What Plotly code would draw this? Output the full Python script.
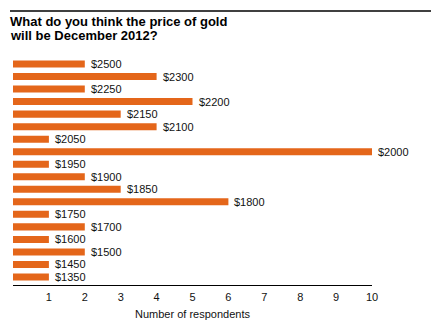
import plotly.graph_objects as go

prices = ["$2500", "$2300", "$2250", "$2200", "$2150", "$2100", "$2050", "$2000", "$1950",
          "$1900", "$1850", "$1800", "$1750", "$1700", "$1600", "$1500", "$1450", "$1350"]
counts = [2, 4, 2, 5, 3, 4, 1, 10, 1, 2, 3, 6, 1, 2, 1, 2, 1, 1]
xticks = [1, 2, 3, 4, 5, 6, 7, 8, 9, 10]
title_lines = ["What do you think the price of gold", "will be December 2012?"]

W, H = 431, 332
L, R, T, B = 13, 59, 57, 47
pw = W - L - R
ph = H - T - B

def px(x):
    return (x - L) / pw

def py(y):
    return 1 - (y - T) / ph

font = "Liberation Sans, Arial, Helvetica, sans-serif"

fig = go.Figure(go.Bar(
    x=counts, y=prices, orientation="h",
    marker=dict(color="#E4661A", line=dict(width=0)),
    width=0.56,
))

annotations = []
for p, c in zip(prices, counts):
    annotations.append(dict(text=p, x=c, y=p, xref="x", yref="y", xanchor="left",
                            yanchor="middle", xshift=4, showarrow=False,
                            font=dict(family=font, size=11, color="#111")))
for i, (line, ymid) in enumerate(zip(title_lines, [21.5, 35.5])):
    annotations.append(dict(text="<b>" + line + "</b>", xref="paper", yref="paper",
                            x=px(9), y=py(ymid), xanchor="left", yanchor="middle",
                            showarrow=False, borderpad=0,
                            font=dict(family=font, size=13, color="black")))

fig.update_layout(
    width=W, height=H,
    margin=dict(l=L, r=R, t=T, b=B),
    paper_bgcolor="white", plot_bgcolor="white",
    showlegend=False,
    font=dict(family=font, size=11, color="#111"),
    bargap=0.44,
    xaxis=dict(range=[0, 10], tickvals=xticks, showgrid=False, zeroline=False,
               showline=True, linecolor="black", linewidth=1, ticks="",
               tickfont=dict(size=11), ticklabelstandoff=2,
               title=dict(text="Number of respondents", font=dict(size=11), standoff=8)),
    yaxis=dict(type="category", categoryorder="array", categoryarray=prices,
               range=[17.64, -0.56], showticklabels=False, showgrid=False,
               zeroline=False, showline=False, ticks=""),
    shapes=[dict(type="line", xref="paper", yref="paper",
                 x0=px(10), x1=px(431), y0=py(11), y1=py(11),
                 line=dict(color="black", width=1.5))],
    annotations=annotations,
)

fig.write_html("out.html")
